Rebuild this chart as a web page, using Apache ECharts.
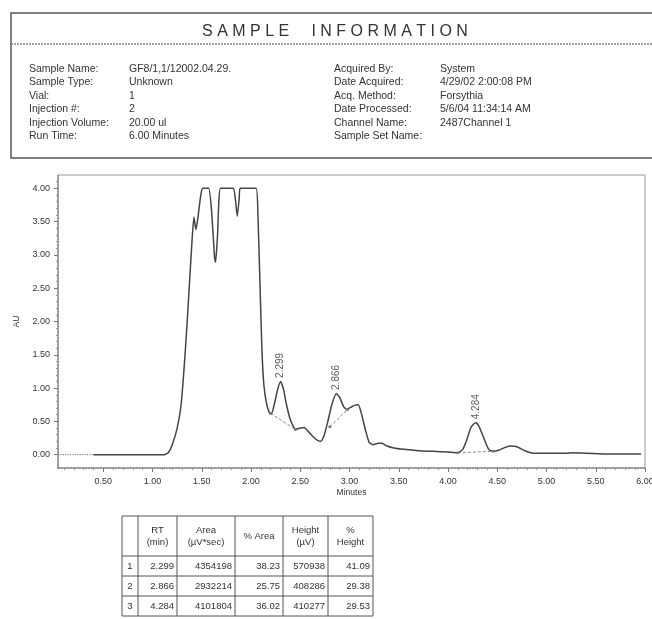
<!DOCTYPE html>
<html><head><meta charset="utf-8">
<script src="https://cdn.jsdelivr.net/npm/echarts@6/dist/echarts.min.js"></script>
<style>html,body{margin:0;padding:0;background:#fff}#c{width:652px;height:619px}</style>
</head><body><div id="c"></div>
<script>
// ---- chromatogram (minutes, AU) ----
const times = [0.40,0.5,1.0,1.12,1.16,1.20,1.25,1.29,1.33,1.36,1.40,1.42,1.44,1.46,1.49,1.51,1.57,1.60,1.63,1.64,1.66,1.67,1.69,1.82,1.84,1.86,1.88,1.89,2.05,2.07,2.09,2.11,2.13,2.16,2.19,2.21,2.24,2.27,2.30,2.33,2.36,2.40,2.45,2.50,2.54,2.58,2.63,2.68,2.71,2.74,2.78,2.82,2.866,2.90,2.94,2.97,3.01,3.05,3.09,3.12,3.16,3.20,3.24,3.29,3.33,3.38,3.45,3.55,3.70,3.85,4.00,4.10,4.15,4.19,4.23,4.26,4.284,4.31,4.35,4.39,4.42,4.46,4.52,4.58,4.64,4.70,4.78,4.88,5.00,5.20,5.27,5.40,5.60,5.96];
const au    = [0.00,0.00,0.00,0.00,0.03,0.15,0.40,0.75,1.50,2.20,3.20,3.57,3.38,3.55,3.90,4.00,4.00,3.65,2.95,2.89,3.30,3.70,4.00,4.00,3.85,3.58,3.85,4.00,4.00,3.60,2.60,1.60,1.05,0.75,0.62,0.62,0.78,0.98,1.10,0.98,0.75,0.52,0.38,0.40,0.41,0.35,0.27,0.21,0.20,0.28,0.50,0.75,0.92,0.86,0.72,0.68,0.71,0.74,0.75,0.62,0.38,0.18,0.15,0.17,0.17,0.13,0.10,0.08,0.06,0.05,0.04,0.03,0.08,0.22,0.40,0.46,0.48,0.44,0.30,0.15,0.07,0.05,0.07,0.11,0.13,0.12,0.06,0.02,0.02,0.02,0.03,0.02,0.01,0.01];
// dotted lead-in before the trace starts
const leadT = [0.04, 0.40], leadA = [0.00, 0.00];
// integration baselines
const base1T = [2.20, 2.45], base1A = [0.62, 0.38];
const base2T = [2.80, 2.98], base2A = [0.42, 0.68];
const base3T = [4.10, 4.46], base3A = [0.03, 0.05];
// peak labels
const peakRT = [2.299, 2.866, 4.284];
const peakAU = [1.10, 0.92, 0.48];
const peakNames = ['2.299', '2.866', '4.284'];
// axis ticks
const xTicks = [0.5,1.0,1.5,2.0,2.5,3.0,3.5,4.0,4.5,5.0,5.5,6.0];
const xMinor = [0.1,0.2,0.3,0.4,0.6,0.7,0.8,0.9,1.1,1.2,1.3,1.4,1.6,1.7,1.8,1.9,2.1,2.2,2.3,2.4,2.6,2.7,2.8,2.9,3.1,3.2,3.3,3.4,3.6,3.7,3.8,3.9,4.1,4.2,4.3,4.4,4.6,4.7,4.8,4.9,5.1,5.2,5.3,5.4,5.6,5.7,5.8,5.9];
const yTicks = [0,0.5,1.0,1.5,2.0,2.5,3.0,3.5,4.0];
const yMinor = [0.1,0.2,0.3,0.4,0.6,0.7,0.8,0.9,1.1,1.2,1.3,1.4,1.6,1.7,1.8,1.9,2.1,2.2,2.3,2.4,2.6,2.7,2.8,2.9,3.1,3.2,3.3,3.4,3.6,3.7,3.8,3.9,4.1];
// sample information
const infoTitle = 'S A M P L E     I N F O R M A T I O N';
const infoLeftLabels = ['Sample Name:', 'Sample Type:', 'Vial:', 'Injection #:', 'Injection Volume:', 'Run Time:'];
const infoLeftValues = ['GF8/1,1/12002.04.29.', 'Unknown', '1', '2', '20.00 ul', '6.00 Minutes'];
const infoRightLabels = ['Acquired By:', 'Date Acquired:', 'Acq. Method:', 'Date Processed:', 'Channel Name:', 'Sample Set Name:'];
const infoRightValues = ['System', '4/29/02 2:00:08 PM', 'Forsythia', '5/6/04 11:34:14 AM', '2487Channel 1', ''];
// peak table
const tableHead = ['', 'RT\n(min)', 'Area\n(µV*sec)', '% Area', 'Height\n(µV)', '%\nHeight'];
const tableRows = [
  ['1', '2.299', '4354198', '38.23', '570938', '41.09'],
  ['2', '2.866', '2932214', '25.75', '408286', '29.38'],
  ['3', '4.284', '4101804', '36.02', '410277', '29.53']
];

const FONT = '"Liberation Sans", Arial, sans-serif';
const TXT = '#333';
const chart = echarts.init(document.getElementById('c'));
const g = [];
// header box
g.push({type:'rect', shape:{x:11, y:13, width:660, height:145}, style:{fill:'none', stroke:'#555', lineWidth:1.5}, silent:true});
g.push({type:'line', shape:{x1:11, y1:44, x2:652, y2:44}, style:{stroke:'#888', lineWidth:1.5, lineDash:[2,1]}, silent:true});
g.push({type:'text', style:{text:infoTitle, x:335, y:32, font:'16px '+FONT, fill:TXT, align:'center', textAlign:'center', verticalAlign:'middle', textVerticalAlign:'middle'}});
const rowY0 = 69, rowDY = 13.5;
function txt(s, x, y, size, align) {
  return {type:'text', style:{text:s, x:x, y:y, font:size+'px '+FONT, fill:TXT, align:align||'left', textAlign:align||'left', verticalAlign:'middle', textVerticalAlign:'middle', lineHeight:12}};
}
infoLeftLabels.forEach((s,i)=>g.push(txt(s, 29, rowY0+i*rowDY, 10.5)));
infoLeftValues.forEach((s,i)=>g.push(txt(s, 129, rowY0+i*rowDY, 10.5)));
infoRightLabels.forEach((s,i)=>g.push(txt(s, 334, rowY0+i*rowDY, 10.5)));
infoRightValues.forEach((s,i)=>g.push(txt(s, 440, rowY0+i*rowDY, 10.5)));
// table
const colX = [122, 138, 177, 235, 283, 328, 373];
const rowYs = [516, 556, 576, 596, 616];
rowYs.forEach(y=>g.push({type:'line', shape:{x1:colX[0], y1:y, x2:colX[colX.length-1], y2:y}, style:{stroke:'#555', lineWidth:1}, silent:true}));
colX.forEach(x=>g.push({type:'line', shape:{x1:x, y1:rowYs[0], x2:x, y2:rowYs[rowYs.length-1]}, style:{stroke:'#555', lineWidth:1}, silent:true}));
tableHead.forEach((s,j)=>{ if(s) g.push(txt(s, (colX[j]+colX[j+1])/2, (rowYs[0]+rowYs[1])/2, 9.5, 'center')); });
tableRows.forEach((r,i)=>{
  const cy = (rowYs[i+1]+rowYs[i+2])/2;
  r.forEach((s,j)=>{
    if(j===0) g.push(txt(s, (colX[0]+colX[1])/2, cy, 9.5, 'center'));
    else g.push(txt(s, colX[j+1]-3, cy, 9.5, 'right'));
  });
});

const axisTxt = {color:TXT, fontSize:9, fontFamily:FONT};
chart.setOption({
  animation:false,
  backgroundColor:'#fff',
  grid:{left:58, right:7, top:175, bottom:151, show:true, borderColor:'#999', borderWidth:1, outerBoundsMode:'none', containLabel:false},
  xAxis:[{
    type:'value', min:0.04, max:6.0,
    name:'Minutes', nameLocation:'middle', nameGap:20, nameTextStyle:{color:TXT, fontSize:8.5, fontFamily:FONT},
    axisLine:{show:true, onZero:false, lineStyle:{color:'#888', type:'dotted', width:1.5}},
    axisTick:{show:true, customValues:xTicks, length:4, lineStyle:{color:'#777'}},
    axisLabel:{customValues:xTicks, formatter:v=>v.toFixed(2), margin:9, ...axisTxt},
    splitLine:{show:false}
  },{
    type:'value', min:0.04, max:6.0, position:'bottom',
    axisLine:{show:false, onZero:false}, axisLabel:{show:false}, splitLine:{show:false},
    axisTick:{show:true, customValues:xMinor, length:2, lineStyle:{color:'#999'}}
  }],
  yAxis:[{
    type:'value', min:-0.2, max:4.2,
    name:'AU', nameLocation:'middle', nameGap:34, nameRotate:90, nameTextStyle:{color:TXT, fontSize:8.5, fontFamily:FONT},
    axisLine:{show:true, onZero:false, lineStyle:{color:'#888', type:'dotted', width:1.5}},
    axisTick:{show:true, customValues:yTicks, length:4, lineStyle:{color:'#777'}},
    axisLabel:{customValues:yTicks, formatter:v=>v.toFixed(2), margin:8, ...axisTxt},
    splitLine:{show:false}
  },{
    type:'value', min:-0.2, max:4.2, position:'left',
    axisLine:{show:false, onZero:false}, axisLabel:{show:false}, splitLine:{show:false},
    axisTick:{show:true, customValues:yMinor, length:2, lineStyle:{color:'#999'}}
  }],
  series:[
    {type:'line', data:times.map((t,i)=>[t,au[i]]), showSymbol:false, smooth:0.15, lineStyle:{color:'#444', width:1.5}},
    {type:'line', data:leadT.map((t,i)=>[t,leadA[i]]), showSymbol:false, lineStyle:{color:'#888', width:1.2, type:'dotted'}},
    {type:'line', data:base1T.map((t,i)=>[t,base1A[i]]), symbol:'circle', symbolSize:3, itemStyle:{color:'#777'}, lineStyle:{color:'#888', width:1, type:[3,2]}},
    {type:'line', data:base2T.map((t,i)=>[t,base2A[i]]), symbol:'circle', symbolSize:3, itemStyle:{color:'#777'}, lineStyle:{color:'#888', width:1, type:[3,2]}},
    {type:'line', data:base3T.map((t,i)=>[t,base3A[i]]), symbol:'circle', symbolSize:3, itemStyle:{color:'#777'}, lineStyle:{color:'#888', width:1, type:[3,2]}},
    {type:'scatter', data:peakRT.map((t,i)=>({value:[t,peakAU[i]], name:peakNames[i]})), symbolSize:1, itemStyle:{color:'rgba(0,0,0,0)'},
     label:{show:true, position:'top', distance:3, rotate:90, align:'left', verticalAlign:'middle', formatter:p=>p.name, color:TXT, fontSize:10, fontFamily:FONT}}
  ],
  graphic:g
});
</script>
</body></html>
